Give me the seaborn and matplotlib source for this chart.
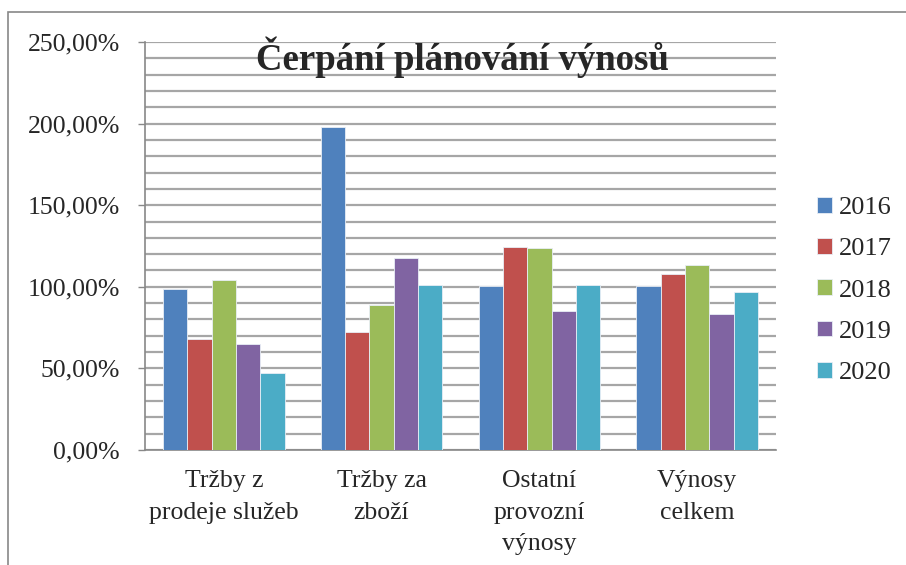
import pandas as pd
import matplotlib.pyplot as plt
import seaborn as sns
from matplotlib.patches import Rectangle

kategorie = ["Tržby z\nprodeje služeb", "Tržby za\nzboží", "Ostatní\nprovozní\nvýnosy", "Výnosy\ncelkem"]
roky = ["2016", "2017", "2018", "2019", "2020"]
# čerpání v % pro každý rok, pořadí dle kategorií
h2016 = [98.6, 198.1, 100.5, 100.3]
h2017 = [68.0, 72.5, 124.2, 107.8]
h2018 = [104.2, 88.8, 123.6, 113.4]
h2019 = [65.0, 117.9, 85.4, 83.3]
h2020 = [47.0, 101.1, 101.1, 96.6]

barvy = ["#4F81BD", "#C0504D", "#9BBB59", "#8064A2", "#4BACC6"]

rows = []
for rok, vals in zip(roky, [h2016, h2017, h2018, h2019, h2020]):
    for k, v in zip(kategorie, vals):
        rows.append({"Kategorie": k, "Rok": rok, "Hodnota": v})
df = pd.DataFrame(rows)

sns.set_style("white")
plt.rcParams['font.family'] = ['Liberation Serif', 'DejaVu Serif']

fig = plt.figure(figsize=(9.06, 5.65), dpi=100)
ax = fig.add_axes([0.160, 0.2035, 0.6965, 0.7222])

sns.barplot(data=df, x="Kategorie", y="Hodnota", hue="Rok", palette=barvy, saturation=1,
            width=0.77, edgecolor="#e8eef6", linewidth=0.6, ax=ax, zorder=3)

ax.set_ylim(0, 250)
ax.set_xlim(-0.5, 3.5)
ax.set_yticks([0, 50, 100, 150, 200, 250])
ax.set_yticklabels([f"{v},00%" for v in [0, 50, 100, 150, 200, 250]], fontsize=18.5)
ax.set_yticks(range(0, 251, 10), minor=True)
ax.grid(axis="y", which="both", color="#a6a6a6", linewidth=1.6, zorder=0)
ax.set_axisbelow(True)

ax.set_xticks(range(4))
ax.set_xticklabels(kategorie, fontsize=18.5, linespacing=1.55)
ax.set_xticks([-0.5, 0.5, 1.5, 2.5, 3.5], minor=True)
ax.tick_params(axis="x", which="major", length=0, pad=14.5)
ax.tick_params(axis="x", which="minor", length=5, width=1, color="#888888", direction="out")
ax.tick_params(axis="y", which="major", length=5, width=1, color="#888888", direction="out", pad=13, left=True)
ax.tick_params(axis="y", which="minor", length=0)

for s in ["top", "right"]:
    ax.spines[s].set_visible(False)
for s in ["left", "bottom"]:
    ax.spines[s].set_color("#888888")
    ax.spines[s].set_linewidth(1.2)

ax.set_xlabel("")
ax.set_ylabel("")

fig.text(0.51, 0.899, "Čerpání plánování výnosů", ha="center", va="center",
         fontsize=26.5, fontweight="bold", zorder=5)

leg = ax.legend(loc="center left", bbox_to_anchor=(0.876, 0.486), bbox_transform=fig.transFigure,
                frameon=False, fontsize=19, handlelength=0.55, handleheight=0.55,
                handletextpad=0.25, labelspacing=0.72)

# rámeček grafu
fig.patches.append(Rectangle((8 / 906, -0.1), 1.2, 1 - 12 / 565 + 0.1, transform=fig.transFigure,
                             fill=False, edgecolor="#888888", linewidth=1.2))

fig.savefig("out.png", dpi=100)
